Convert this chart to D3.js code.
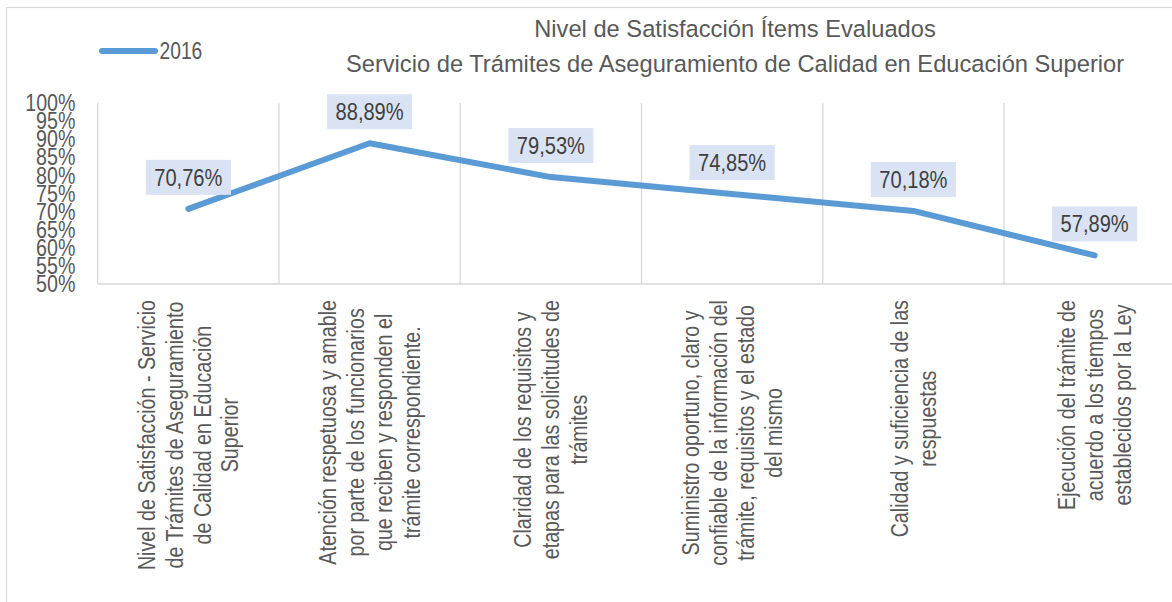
<!DOCTYPE html>
<html><head><meta charset="utf-8">
<script src="https://cdn.jsdelivr.net/npm/d3@7"></script>
<style>
body{margin:0;background:#fff;}
text{font-family:"Liberation Sans Narrow","Arial Narrow","Liberation Sans",Arial,sans-serif;}
</style></head>
<body>
<svg id="c" width="1172" height="602"></svg>
<script>
const categories = [
  ["Nivel de Satisfacción - Servicio","de Trámites de Aseguramiento","de Calidad en Educación","Superior"],
  ["Atención respetuosa y amable","por parte de los funcionarios","que reciben y responden el","trámite correspondiente."],
  ["Claridad de los requisitos y","etapas para las solicitudes de","trámites"],
  ["Suministro oportuno, claro y","confiable de la información del","trámite, requisitos y el estado","del mismo"],
  ["Calidad  y suficiencia de las","respuestas"],
  ["Ejecución del trámite de","acuerdo a los tiempos","establecidos por la Ley"]
];
const values2016 = [70.76, 88.89, 79.53, 74.85, 70.18, 57.89];
const seriesName = "2016";
const yTicks = [50,55,60,65,70,75,80,85,90,95,100];
const titleLines = ["Nivel de Satisfacción Ítems Evaluados","Servicio de Trámites de Aseguramiento de Calidad en Educación Superior"];

const svg = d3.select("#c");
const L = 97.7, T = 103, B = 284, bandW = 181.26;
const x = d3.scaleBand().domain(d3.range(categories.length)).range([L, L + bandW*categories.length]);
const y = d3.scaleLinear().domain([50,100]).range([B, T]);
const textCol = "#595959";
// condensed look (narrow face not installed)
const SX = 0.82;
const narrowFont = '"Liberation Sans Narrow","Arial Narrow","Liberation Sans",Arial,sans-serif';

// outer border
svg.append("rect").attr("x",6.5).attr("y",7.5).attr("width",1200).attr("height",700)
  .attr("fill","none").attr("stroke","#d9d9d9").attr("stroke-width",1.2);

// title (regular width)
svg.append("g").selectAll("text").data(titleLines).join("text")
  .attr("x",735).attr("y",(d,i)=>36.5+i*35.5).attr("text-anchor","middle")
  .style("font-family",'"Liberation Sans",Arial,sans-serif')
  .attr("font-size",23.7).attr("fill",textCol).text(d=>d);

// legend
svg.append("line").attr("x1",102).attr("x2",155).attr("y1",51).attr("y2",51)
  .attr("stroke","#5b9bd5").attr("stroke-width",6).attr("stroke-linecap","round");
svg.append("text").attr("transform","translate(159.5,58.5) scale("+SX+",1)")
  .attr("font-size",23.5).attr("fill",textCol).text(seriesName);

// vertical gridlines
const bounds = d3.range(categories.length+1).map(i => L + i*bandW);
svg.append("g").selectAll("line").data(bounds).join("line")
  .attr("x1",d=>d).attr("x2",d=>d).attr("y1",T).attr("y2",B)
  .attr("stroke","#d9d9d9").attr("stroke-width",1.3);
// x axis line
svg.append("line").attr("x1",L).attr("x2",1200).attr("y1",B).attr("y2",B)
  .attr("stroke","#d9d9d9").attr("stroke-width",1.5);

// y axis
const yAxis = d3.axisLeft(y).tickValues(yTicks).tickSize(0).tickPadding(0).tickFormat(d=>d+"%");
const gy = svg.append("g").attr("transform",`translate(75.5,0)`).call(yAxis);
gy.select(".domain").remove();
gy.selectAll("text").attr("font-size",24).attr("fill",textCol).attr("x",0)
  .attr("transform","scale("+SX+",1)")
  .style("font-family",narrowFont);

// line
const line = d3.line().x((d,i)=>x(i)+x.bandwidth()/2).y(d=>y(d));
svg.append("path").datum(values2016).attr("d",line).attr("fill","none")
  .attr("stroke","#5b9bd5").attr("stroke-width",6).attr("stroke-linejoin","round").attr("stroke-linecap","round");

// data labels
const fmt = v => v.toFixed(2).replace(".",",")+"%";
const lg = svg.append("g").selectAll("g").data(values2016).join("g")
  .attr("transform",(d,i)=>`translate(${x(i)+x.bandwidth()/2},${y(d)-14})`);
lg.each(function(d){
  const g = d3.select(this);
  const t = g.append("text").attr("text-anchor","middle")
    .attr("transform","translate(0,-9) scale("+SX+",1)")
    .attr("font-size",24.5).attr("fill","#404040").text(fmt(d));
  const w = t.node().getComputedTextLength()*SX;
  g.insert("rect","text").attr("x",-w/2-8.5).attr("y",-35).attr("width",w+17).attr("height",35).attr("fill","#dae3f3");
});

// category labels
const cg = svg.append("g").selectAll("g").data(categories).join("g")
  .attr("transform",(d,i)=>`translate(${x(i)+x.bandwidth()/2},300) rotate(-90)`);
cg.each(function(lines){
  const g = d3.select(this);
  const n = lines.length, lh = 27.8;
  const ts = g.selectAll("text").data(lines).join("text")
    .attr("text-anchor","middle").attr("font-size",24).attr("fill",textCol)
    .attr("dy","0.35em").text(d=>d);
  let maxW = 0; ts.each(function(){maxW = Math.max(maxW,this.getComputedTextLength());});
  ts.attr("transform",(d,i)=>`translate(${-maxW*SX/2},${(i-(n-1)/2)*lh}) scale(${SX},1)`);
});
</script>
</body></html>
